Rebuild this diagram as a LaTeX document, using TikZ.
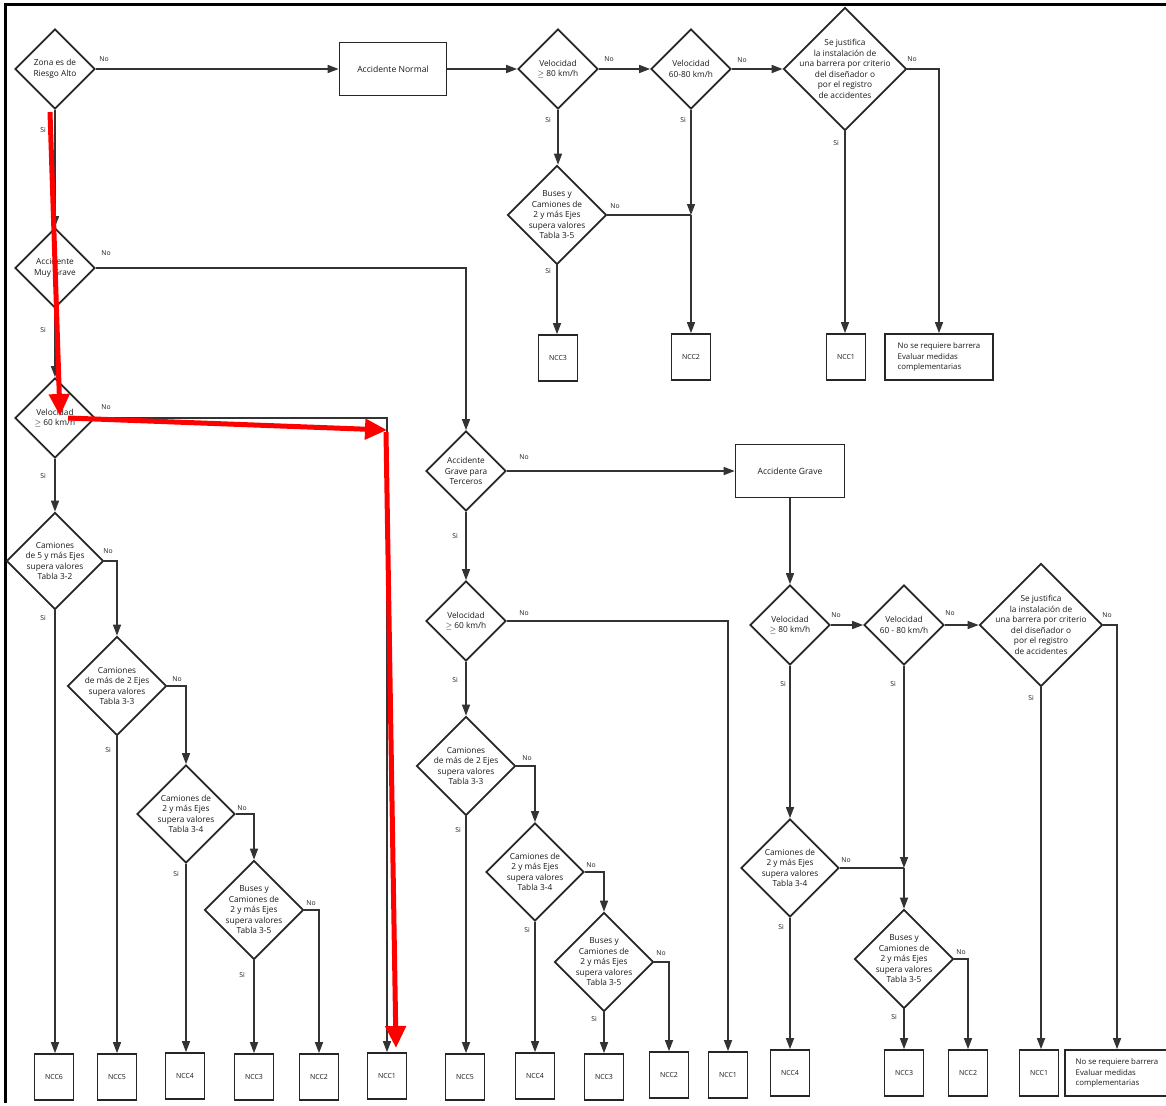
\documentclass[tikz,border=0pt]{standalone}
\usepackage{fontspec}
\setmainfont{Open Sans}
\usetikzlibrary{arrows.meta,shapes.geometric}
\newcommand{\FlowTip}{Triangle[length=11,width=8]}
\newcommand{\MarkTip}{Triangle[length=22,width=20]}
\tikzset{flow/.style={line width=1.5pt,draw=black!80,-{\FlowTip}}}
\tikzset{link/.style={line width=1.5pt,draw=black!80}}
\tikzset{cond/.style={draw=black!85,line width=1.7pt,diamond,aspect=1,minimum size=#1,inner sep=-25pt,align=center,font=\fontsize{8.3}{10.5}\selectfont,text=black!90}}
\tikzset{proc/.style={draw=black!85,line width=1.7pt,rectangle,minimum width=#1,minimum height=53,font=\fontsize{8.6}{10}\selectfont,text=black!90}}
\tikzset{ncc/.style={draw=black!85,line width=1.7pt,rectangle,minimum width=39,minimum height=46,font=\fontsize{7}{8}\selectfont,text=black!90}}
\tikzset{note/.style={draw=black!85,line width=1.7pt,rectangle,minimum width=#1,minimum height=46,align=left,font=\fontsize{7.8}{10.5}\selectfont,text=black!90}}
\tikzset{yn/.style={font=\fontsize{6.8}{7}\selectfont,inner sep=0pt,text=black!90}}
\tikzset{redmark/.style={line width=5pt,draw=red,-{\MarkTip}}}
\begin{document}
\begin{tikzpicture}[x=1pt,y=-1pt]
\useasboundingbox(0,0)rectangle(1166,1105);
\draw[line width=2.6pt](5.5,1103)--(5.5,4.5)--(1166,4.5);
% primera fila
\node(risk)[cond=80]at(55,69){Zona es de\\Riesgo Alto};
\node(normal)[proc=107]at(393,69){Accidente Normal};
\node(nv80)[cond=80]at(558,69){Velocidad\\$\geq$ 80 km/h};
\node(nv6080)[cond=80]at(691,69){Velocidad\\60-80 km/h};
\node(njust)[cond=123]at(845,69){Se justifica\\la instalación de\\una barrera por criterio\\del diseñador o\\por el registro\\de accidentes};
\node(nbus)[cond=99]at(557,215){Buses y\\Camiones de\\2 y más Ejes\\supera valores\\Tabla 3-5};
\node(nA3)[ncc]at(558,358){NCC3};\node(nA2)[ncc]at(691,357){NCC2};\node(nA1)[ncc]at(846,357){NCC1};
\node(nA0)[note=108]at(939,357){No se requiere barrera\\Evaluar medidas\\complementarias};
% columna izquierda
\node(mgrave)[cond=80]at(55,268){Accidente\\Muy Grave};
\node(mv60)[cond=80]at(55,418){Velocidad\\$\geq$ 60 km/h};
\node(m5e)[cond=97]at(55,561){Camiones\\de 5 y más Ejes\\supera valores\\Tabla 3-2};
\node(m2e)[cond=99]at(117,686){Camiones\\de más de 2 Ejes\\supera valores\\Tabla 3-3};
\node(m34)[cond=98]at(186,814){Camiones de\\2 y más Ejes\\supera valores\\Tabla 3-4};
\node(mbus)[cond=99]at(254,910){Buses y\\Camiones de\\2 y más Ejes\\supera valores\\Tabla 3-5};
\node(mA6)[ncc]at(54,1077){NCC6};\node(mA5)[ncc]at(117,1077){NCC5};\node(mA4)[ncc]at(185,1076){NCC4};
\node(mA3)[ncc]at(254,1077){NCC3};\node(mA2)[ncc]at(319,1077){NCC2};\node(mA1)[ncc]at(387,1076){NCC1};
% columna central
\node(tgrave)[cond=80]at(466,471){Accidente\\Grave para\\Terceros};
\node(tv60)[cond=80]at(466,621){Velocidad\\$\geq$ 60 km/h};
\node(t2e)[cond=99]at(466,766){Camiones\\de más de 2 Ejes\\supera valores\\Tabla 3-3};
\node(t34)[cond=98]at(535,872){Camiones de\\2 y más Ejes\\supera valores\\Tabla 3-4};
\node(tbus)[cond=99]at(604,962){Buses y\\Camiones de\\2 y más Ejes\\supera valores\\Tabla 3-5};
\node(tA5)[ncc]at(465,1077){NCC5};\node(tA4)[ncc]at(535,1076){NCC4};\node(tA3)[ncc]at(604,1077){NCC3};
\node(tA2)[ncc]at(669,1075){NCC2};\node(tA1)[ncc]at(728,1075){NCC1};
% accidente grave
\node(grave)[proc=109]at(790,471){Accidente Grave};
\node(gv80)[cond=80]at(790,625){Velocidad\\$\geq$ 80 km/h};
\node(gv6080)[cond=80]at(904,625){Velocidad\\60 - 80 km/h};
\node(gjust)[cond=123]at(1041,625){Se justifica\\la instalación de\\una barrera por criterio\\del diseñador o\\por el registro\\de accidentes};
\node(g34)[cond=98]at(790,868){Camiones de\\2 y más Ejes\\supera valores\\Tabla 3-4};
\node(gbus)[cond=99]at(904,959){Buses y\\Camiones de\\2 y más Ejes\\supera valores\\Tabla 3-5};
\node(gA4)[ncc]at(790,1073){NCC4};\node(gA3)[ncc]at(904,1073){NCC3};\node(gA2)[ncc]at(968,1073){NCC2};
\node(gA1)[ncc]at(1039,1073){NCC1};
\node(gA0)[note=104]at(1117,1073){No se requiere barrera\\Evaluar medidas\\complementarias};
\coordinate(jA)at(nv6080.south|-nbus.east);\coordinate(jG)at(gv6080.south|-g34.east);
% conectores
\draw[flow](risk)--(normal);\draw[flow](normal)--(nv80);\draw[flow](nv80)--(nv6080);\draw[flow](nv6080)--(njust);
\draw[flow](njust.east)-|(nA0.north);\draw[flow](njust.south)--(njust.south|-nA1.north);
\draw[flow](nv80.south)--(nv80.south|-nbus.north);\draw[flow](nbus.south)--(nbus.south|-nA3.north);
\draw[flow](nv6080.south)--(jA);\draw[link](nbus.east)--(jA);\draw[flow](jA)--(jA|-nA2.north);
\draw[flow](risk)--(mgrave);\draw[flow](mgrave.east)-|(tgrave.north);
\draw[flow](mgrave)--(mv60);\draw[flow](mv60.east)-|(mA1.north);
\draw[flow](mv60)--(m5e);\draw[flow](m5e.east)-|(m2e.north);\draw[flow](m5e.south)--(m5e.south|-mA6.north);
\draw[flow](m2e.east)-|(m34.north);\draw[flow](m2e.south)--(m2e.south|-mA5.north);
\draw[flow](m34.east)-|(mbus.north);\draw[flow](m34.south)--(m34.south|-mA4.north);
\draw[flow](mbus.east)-|(mA2.north);\draw[flow](mbus.south)--(mbus.south|-mA3.north);
\draw[flow](tgrave)--(grave);\draw[flow](tgrave)--(tv60);\draw[flow](tv60.east)-|(tA1.north);
\draw[flow](tv60)--(t2e);\draw[flow](t2e.east)-|(t34.north);\draw[flow](t2e.south)--(t2e.south|-tA5.north);
\draw[flow](t34.east)-|(tbus.north);\draw[flow](t34.south)--(t34.south|-tA4.north);
\draw[flow](tbus.east)-|(tA2.north);\draw[flow](tbus.south)--(tbus.south|-tA3.north);
\draw[flow](grave)--(gv80);\draw[flow](gv80)--(gv6080);\draw[flow](gv6080)--(gjust);
\draw[flow](gjust.east)-|(gA0.north);\draw[flow](gjust.south)--(gjust.south|-gA1.north);
\draw[flow](gv80.south)--(gv80.south|-g34.north);\draw[flow](g34.south)--(g34.south|-gA4.north);
\draw[flow](gv6080.south)--(jG);\draw[link](g34.east)--(jG);\draw[flow](jG)--(gbus.north);
\draw[flow](gbus.east)-|(gA2.north);\draw[flow](gbus.south)--(gbus.south|-gA3.north);
% No / Si
\node(no1)[yn]at(104,59){No};\node(no2)[yn]at(609,59){No};\node(no3)[yn]at(742,60){No};\node(no4)[yn]at(912,59){No};
\node(no5)[yn]at(615,206){No};\node(no6)[yn]at(106,253){No};\node(no7)[yn]at(106,407){No};\node(no8)[yn]at(108,551){No};
\node(no9)[yn]at(177,679){No};\node(no10)[yn]at(242,808){No};\node(no11)[yn]at(311,903){No};\node(no12)[yn]at(524,457){No};
\node(no13)[yn]at(524,613){No};\node(no14)[yn]at(527,758){No};\node(no15)[yn]at(591,865){No};\node(no16)[yn]at(661,953){No};
\node(no17)[yn]at(836,615){No};\node(no18)[yn]at(950,613){No};\node(no19)[yn]at(1107,615){No};\node(no20)[yn]at(846,860){No};
\node(no21)[yn]at(961,952){No};
\node(si1)[yn]at(43,130){Si};\node(si2)[yn]at(548,120){Si};\node(si3)[yn]at(683,120){Si};\node(si4)[yn]at(836,143){Si};
\node(si5)[yn]at(548,271){Si};\node(si6)[yn]at(43,330){Si};\node(si7)[yn]at(43,476){Si};\node(si8)[yn]at(43,618){Si};
\node(si9)[yn]at(108,750){Si};\node(si10)[yn]at(176,874){Si};\node(si11)[yn]at(242,975){Si};\node(si12)[yn]at(455,536){Si};
\node(si13)[yn]at(455,680){Si};\node(si14)[yn]at(458,830){Si};\node(si15)[yn]at(527,930){Si};\node(si16)[yn]at(594,1019){Si};
\node(si17)[yn]at(783,684){Si};\node(si18)[yn]at(893,684){Si};\node(si19)[yn]at(1031,698){Si};\node(si20)[yn]at(781,927){Si};
\node(si21)[yn]at(894,1017){Si};
% flechas rojas
\coordinate(r1)at(50,112);\coordinate(r2)at(60,416);\coordinate(r3)at(68,418);\coordinate(r4)at(387,430);
\coordinate(r5)at(386,432);\coordinate(r6)at(396,1048);
\draw[redmark](r1)--(r2);\draw[redmark](r3)--(r4);\draw[redmark](r5)--(r6);
\end{tikzpicture}
\end{document}
